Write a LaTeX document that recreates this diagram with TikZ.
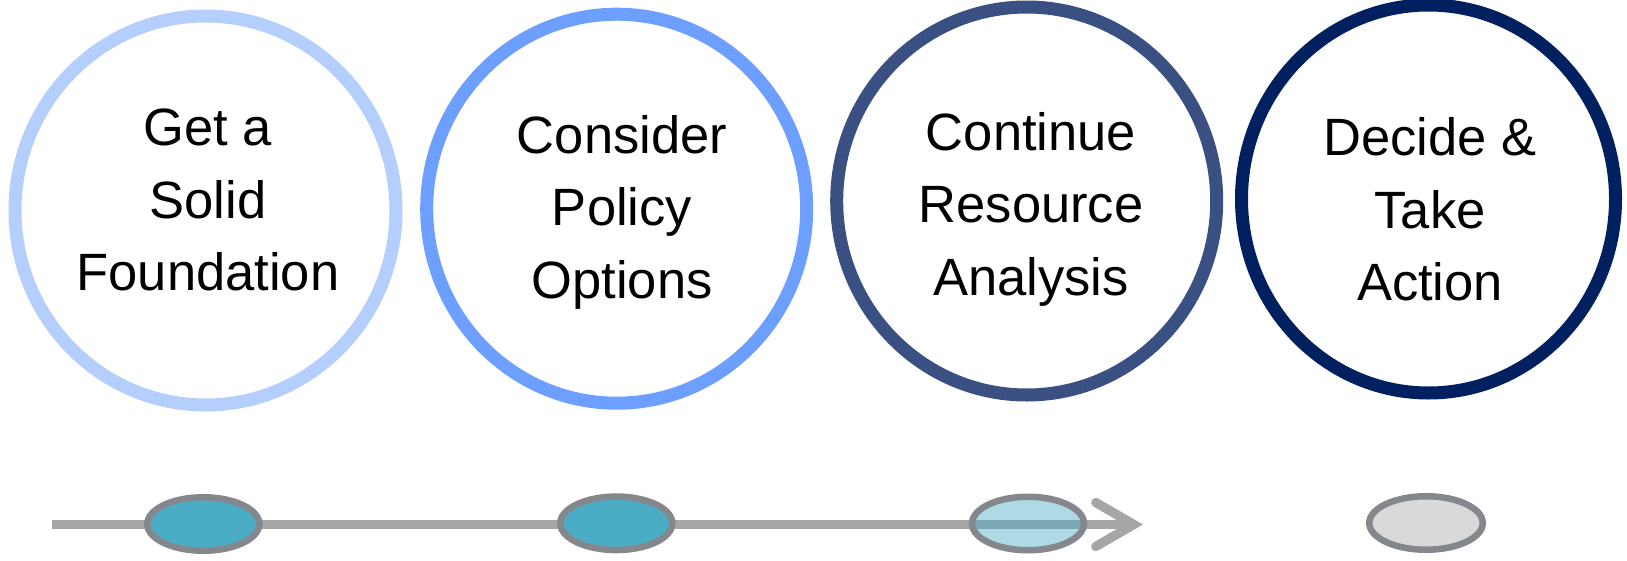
\documentclass[tikz,border=0pt]{standalone}
\usepackage{fontspec}
\setmainfont{Liberation Sans}
\usetikzlibrary{shapes.geometric,arrows.meta}

% ring colours, light to dark
\definecolor{ringA}{HTML}{B4CEFD}
\definecolor{ringB}{HTML}{6C9FFF}
\definecolor{ringC}{HTML}{3A4F82}
\definecolor{ringD}{HTML}{002060}
% timeline colours
\definecolor{linegray}{HTML}{A6A6A6}
\definecolor{markeredge}{HTML}{84878B}
\definecolor{markerfill}{HTML}{4BACC6}
\definecolor{markerpending}{HTML}{D9D9D9}

% fixed-height first line and fixed-depth last line keep the text blocks aligned
\newcommand{\capstrut}{\rule{0pt}{0.8em}}
\newcommand{\descstrut}{\rule[-0.25em]{0pt}{0.25em}}

\begin{document}
\begin{tikzpicture}[x=1pt,y=-1pt,
  ring/.style={ellipse, draw, line width=13pt, fill=white, inner sep=0pt},
  steptext/.style={align=center, inner sep=0pt, text=black,
    font=\fontsize{52.5}{72.5}\selectfont},
  marker/.style={ellipse, draw=markeredge, line width=6.5pt, inner sep=0pt,
    minimum width=112pt, minimum height=53.5pt},
  timeline/.style={draw=linegray, line width=9.3pt}
]
\useasboundingbox (0,0) rectangle (1627,560);

% step circles
\node[ring, draw=ringA, minimum width=381pt, minimum height=389pt] (c1) at (205.5,210.5) {};
\node[ring, draw=ringB, minimum width=380pt, minimum height=389pt] (c2) at (616.7,208.7) {};
\node[ring, draw=ringC, minimum width=380pt, minimum height=388pt] (c3) at (1026.7,201) {};
\node[ring, draw=ringD, minimum width=374pt, minimum height=388pt] (c4) at (1428.5,199) {};

% step captions
\node[steptext] (t1) at (208,203.8) {\capstrut Get a\\Solid\\Foundation\descstrut};
\node[steptext] (t2) at (622,211.5) {\capstrut Consider\\Policy\\Options\descstrut};
\node[steptext] (t3) at (1031,208.2) {\capstrut Continue\\Resource\\Analysis\descstrut};
\node[steptext] (t4) at (1430,213.8) {\capstrut Decide \&\\Take\\Action\descstrut};

% progress line
\coordinate (tstart) at (51.7,524.5);
\coordinate (tend) at (1143,524.5);
\draw[timeline, -{Straight Barb[length=38pt, width=44pt, line cap=round, line join=miter]}] (tstart) -- (tend);

% progress markers
\node[marker, fill=markerfill] (m1) at (203.3,524) {};
\node[marker, fill=markerfill] (m2) at (616.3,523.3) {};
\node[marker, fill=markerfill, fill opacity=0.45] (m3) at (1028,523.5) {};
\node[marker, fill=markerpending, minimum width=113.5pt] (m4) at (1426,523) {};
\end{tikzpicture}
\end{document}
